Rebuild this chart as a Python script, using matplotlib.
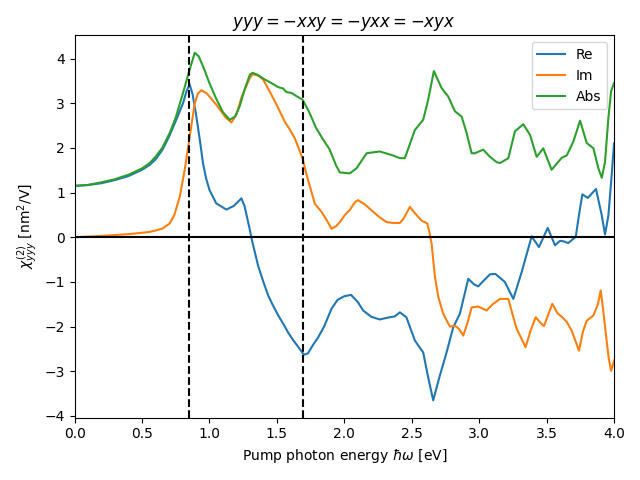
import numpy as np
import matplotlib
matplotlib.use("Agg")
import matplotlib.pyplot as plt

# photon energy grid (eV) and the three components
e_re = [0.0, 0.1, 0.2, 0.3, 0.4, 0.5, 0.557, 0.6, 0.65, 0.7, 0.75, 0.804, 0.83, 0.853, 0.875,
        0.903, 0.93, 0.952, 0.975, 1.0, 1.05, 1.125, 1.18, 1.237, 1.26, 1.30, 1.31, 1.36, 1.40,
        1.435, 1.47, 1.51, 1.55, 1.583, 1.62, 1.66, 1.70, 1.73, 1.77, 1.806, 1.85, 1.905, 1.95,
        2.0, 2.05, 2.1, 2.14, 2.2, 2.263, 2.32, 2.375, 2.412, 2.46, 2.523, 2.585, 2.622, 2.659,
        2.704, 2.758, 2.807, 2.857, 2.919, 2.96, 2.993, 3.04, 3.08, 3.12, 3.19, 3.253, 3.315,
        3.389, 3.443, 3.508, 3.562, 3.6, 3.624, 3.66, 3.716, 3.74, 3.765, 3.805, 3.866, 3.909,
        3.933, 3.958, 3.98, 4.0]
re = [1.15, 1.17, 1.21, 1.28, 1.37, 1.51, 1.62, 1.74, 1.95, 2.25, 2.6, 3.0, 3.27, 3.42, 3.2,
      2.70, 2.15, 1.66, 1.32, 1.06, 0.76, 0.62, 0.7, 0.87, 0.7, 0.16, 0.0, -0.63, -1.0,
      -1.30, -1.52, -1.75, -1.95, -2.13, -2.3, -2.46, -2.63, -2.6, -2.4, -2.24, -2.0, -1.60, -1.40,
      -1.32, -1.29, -1.45, -1.64, -1.78, -1.84, -1.80, -1.77, -1.68, -1.79, -2.31, -2.58, -3.14, -3.65,
      -3.14, -2.58, -2.02, -1.71, -0.93, -1.05, -1.10, -0.95, -0.83, -0.82, -1.0, -1.38, -0.78,
      0.02, -0.22, 0.21, -0.18, -0.08, -0.09, -0.13, 0.01, 0.5, 0.96, 0.88, 1.08, 0.49,
      0.06, 0.49, 1.3, 2.1]

e_im = [0.0, 0.2, 0.4, 0.5, 0.557, 0.6, 0.655, 0.705, 0.74, 0.78, 0.816, 0.85, 0.891, 0.915,
        0.94, 0.98, 1.05, 1.12, 1.163, 1.2, 1.24, 1.30, 1.32, 1.36, 1.398, 1.44, 1.497,
        1.558, 1.596, 1.632, 1.69, 1.72, 1.756, 1.781, 1.831, 1.87, 1.905, 1.94, 1.967, 2.004,
        2.04, 2.078, 2.10, 2.15, 2.214, 2.26, 2.313, 2.36, 2.412, 2.44, 2.486, 2.52, 2.573,
        2.615, 2.632, 2.647, 2.672, 2.697, 2.733, 2.783, 2.82, 2.85, 2.882, 2.91, 2.944, 2.993,
        3.055, 3.1, 3.154, 3.216, 3.245, 3.278, 3.344, 3.38, 3.419, 3.45, 3.48, 3.542,
        3.58, 3.617, 3.65, 3.686, 3.74, 3.77, 3.797, 3.847, 3.88, 3.901, 3.918, 3.938, 3.96,
        3.978, 4.0]
im = [0.0, 0.03, 0.07, 0.10, 0.12, 0.15, 0.2, 0.31, 0.5, 0.91, 1.5, 2.18, 3.0, 3.22,
      3.29, 3.22, 2.97, 2.68, 2.57, 2.75, 3.15, 3.57, 3.65, 3.62, 3.53, 3.3, 2.97,
      2.59, 2.41, 2.22, 1.77, 1.4, 1.02, 0.75, 0.57, 0.38, 0.19, 0.25, 0.34, 0.5,
      0.61, 0.78, 0.83, 0.74, 0.57, 0.45, 0.34, 0.32, 0.32, 0.42, 0.68, 0.55, 0.37,
      0.31, 0.1, -0.14, -0.89, -1.34, -1.71, -2.0, -1.98, -2.05, -2.20, -1.95, -1.57, -1.55,
      -1.64, -1.5, -1.38, -1.38, -1.7, -2.05, -2.46, -2.1, -1.79, -1.90, -1.99, -1.49,
      -1.7, -1.79, -1.9, -2.09, -2.54, -2.1, -1.87, -1.75, -1.5, -1.19, -1.6, -2.13, -2.7,
      -2.99, -2.76]

e_abs = [0.0, 0.1, 0.2, 0.3, 0.4, 0.5, 0.557, 0.6, 0.65, 0.705, 0.75, 0.804, 0.853, 0.891,
         0.92, 0.952, 1.0, 1.05, 1.1, 1.15, 1.19, 1.224, 1.26, 1.30, 1.32, 1.36, 1.41, 1.46,
         1.509, 1.546, 1.57, 1.608, 1.65, 1.69, 1.74, 1.79, 1.84, 1.89, 1.94, 1.967, 2.04,
         2.09, 2.165, 2.263, 2.362, 2.412, 2.449, 2.523, 2.585, 2.622, 2.664, 2.721, 2.77,
         2.82, 2.87, 2.907, 2.944, 2.968, 3.03, 3.08, 3.13, 3.154, 3.216, 3.265, 3.327, 3.377,
         3.426, 3.475, 3.537, 3.612, 3.649, 3.698, 3.748, 3.797, 3.847, 3.884, 3.909, 3.933,
         3.958, 3.978, 4.0]
ab = [1.15, 1.17, 1.23, 1.30, 1.40, 1.54, 1.66, 1.80, 2.0, 2.33, 2.68, 3.23, 3.75, 4.13,
      4.05, 3.83, 3.45, 3.1, 2.8, 2.63, 2.7, 2.93, 3.3, 3.64, 3.68, 3.63, 3.53, 3.45,
      3.36, 3.33, 3.25, 3.23, 3.15, 3.08, 2.8, 2.45, 2.2, 1.97, 1.6, 1.45, 1.43,
      1.54, 1.88, 1.92, 1.83, 1.77, 1.77, 2.40, 2.63, 3.08, 3.72, 3.34, 3.15,
      2.82, 2.70, 2.33, 1.88, 1.88, 1.96, 1.80, 1.68, 1.66, 1.77, 2.37, 2.53, 2.29,
      1.80, 1.99, 1.51, 1.78, 1.83, 2.14, 2.61, 2.11, 1.99, 1.54, 1.33, 1.69,
      2.67, 3.27, 3.45]

# marked photon energies (eV)
e_marks = [0.845, 1.69]

fig, ax = plt.subplots(figsize=(6.4, 4.8), dpi=100)
ax.plot(e_re, re, label='Re')
ax.plot(e_im, im, label='Im')
ax.plot(e_abs, ab, label='Abs')
ax.axhline(0, color='k', lw=1.5)
for e in e_marks:
    ax.axvline(e, color='k', ls='--', lw=1.5)

ax.set_xlim(0, 4)
ax.set_title(r'$yyy=-xxy=-yxx=-xyx$')
ax.set_xlabel(r'Pump photon energy $\hbar\omega$ [eV]')
ax.set_ylabel(r'$\chi^{(2)}_{yyy}$ [nm$^2$/V]')
ax.legend(loc='upper right')

plt.tight_layout()
plt.savefig('out.png', dpi=100)
